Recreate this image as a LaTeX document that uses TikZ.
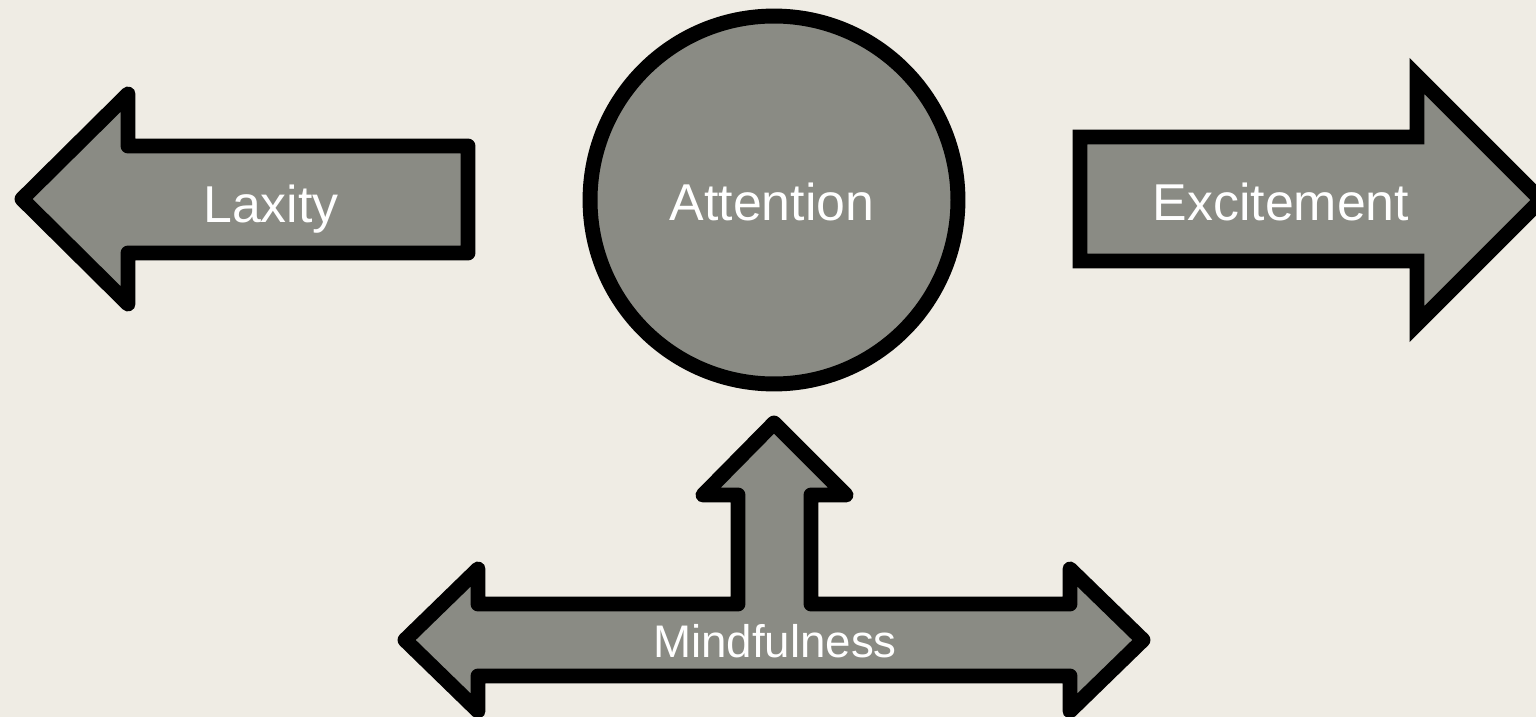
\documentclass[tikz,border=0pt]{standalone}
\usepackage{fontspec}
\setmainfont{Liberation Sans}
\usepackage{tikz}
\usetikzlibrary{arrows.meta}
\usepackage{xcolor}
\definecolor{paper}{HTML}{EFECE4}
\definecolor{slate}{HTML}{8A8B84}

\begin{document}
\begin{tikzpicture}[x=0.02cm,y=-0.02cm,
		block/.style={draw=black,fill=slate,line width=8.5pt},
		wordlabel/.style={text=white,anchor=base,font=\fontsize{29.5}{34}\selectfont},
		smallword/.style={wordlabel,font=\fontsize{26}{30}\selectfont}]
		
		% page and background
		\fill[paper] (0,0) rectangle (1536,717);
		\clip (0,0) rectangle (1536,717);
		
		% Laxity: arrow to the left
		\draw[block,line join=round] (22,199) -- (128,94) -- (128,146) -- (468,146)
			-- (468,253) -- (128,253) -- (128,304) -- cycle;
		\node[wordlabel] (laxity) at (271,222) {Laxity};
		
		% Attention: circle in the middle
		\node[block,circle,minimum size=7.36cm,inner sep=0pt] (attention) at (774,200) {};
		\node[wordlabel] (attentiontext) at (772,220) {Attention};
		
		% Excitement: arrow to the right
		\draw[block,line join=miter] (1080,137) -- (1417,137) -- (1417,76) -- (1541,200)
			-- (1417,324) -- (1417,261) -- (1080,261) -- cycle;
		\node[wordlabel] (excitement) at (1281,220) {Excitement};
		
		% Mindfulness: three-way arrow below
		\draw[block,line join=round] (405,640) -- (478,569) -- (478,604) -- (738,604)
			-- (738,495) -- (703,495) -- (774,423) -- (846,495) -- (811,495)
			-- (811,604) -- (1070,604) -- (1070,569) -- (1143,640) -- (1070,711)
			-- (1070,676) -- (478,676) -- (478,711) -- cycle;
		\node[smallword] (mindfulness) at (775,657) {Mindfulness};
		
	\end{tikzpicture}
\end{document}
